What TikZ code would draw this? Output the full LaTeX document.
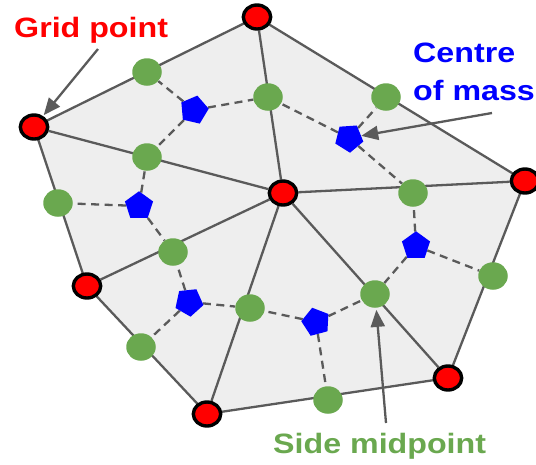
\documentclass[tikz,border=0pt]{standalone}
\usepackage{fontspec}
\setmainfont{Liberation Sans}
\usetikzlibrary{shapes.geometric,arrows.meta,backgrounds}
\definecolor{edgegray}{HTML}{5A5A5A}
\definecolor{fillgray}{HTML}{EEEEEE}
\definecolor{midgreen}{HTML}{6AA84F}
\begin{document}
\begin{tikzpicture}[x=1pt,y=-1pt,
  gridpt/.style={ellipse,draw=black,fill=red,line width=3.4pt,minimum width=27.4pt,minimum height=24pt,inner sep=0pt},
  midpt/.style={ellipse,fill=midgreen,minimum width=29.5pt,minimum height=27.5pt,inner sep=0pt},
  compt/.style={regular polygon,regular polygon sides=5,fill=blue,minimum size=29.5pt,inner sep=0pt},
  meshline/.style={draw=edgegray,line width=2.3pt},
  dualline/.style={draw=edgegray,line width=2.3pt,dash pattern=on 8pt off 5.5pt},
  pointer/.style={draw=edgegray,line width=2.3pt,-{Triangle[length=17pt,width=14pt]}},
  lbl/.style={anchor=base west,inner sep=0pt,font=\fontsize{28}{38}\selectfont\bfseries}
]
\useasboundingbox (0,0) rectangle (536,464);

% grid points
\node[gridpt] (T)  at (257,17)  {};
\node[gridpt] (L)  at (34,127)  {};
\node[gridpt] (C)  at (283,193) {};
\node[gridpt] (R)  at (525,181) {};
\node[gridpt] (LL) at (87,286)  {};
\node[gridpt] (BL) at (207,414) {};
\node[gridpt] (BR) at (448,378) {};

% side midpoints
\node[midpt] (g1)  at (147,72)  {};
\node[midpt] (g2)  at (268,97)  {};
\node[midpt] (g3)  at (386,97)  {};
\node[midpt] (g4)  at (147,157) {};
\node[midpt] (g5)  at (413,193) {};
\node[midpt] (g6)  at (58,203)  {};
\node[midpt] (g7)  at (173,252) {};
\node[midpt] (g8)  at (493,276) {};
\node[midpt] (g9)  at (375,294) {};
\node[midpt] (g10) at (250,308) {};
\node[midpt] (g11) at (141,347) {};
\node[midpt] (g12) at (328,400) {};

% centres of mass
\node[compt,shape border rotate=-13] (p1) at (194,110) {};
\node[compt,shape border rotate=-32] (p2) at (349,138) {};
\node[compt] (p3) at (416,246) {};
\node[compt,shape border rotate=15] (p4) at (316,322) {};
\node[compt,shape border rotate=-30] (p5) at (189,302) {};
\node[compt] (p6) at (139,206) {};

\begin{pgfonlayer}{background}
\fill[fillgray] (L.center) -- (T.center) -- (R.center) -- (BR.center) -- (BL.center) -- (LL.center) -- cycle;
\draw[meshline,line join=round] (L.center) -- (T.center) -- (R.center) -- (BR.center) -- (BL.center) -- (LL.center) -- cycle;
\draw[meshline] (C) -- (T) (C) -- (L) (C) -- (R) (C) -- (LL) (C) -- (BL) (C) -- (BR);
\draw[dualline] (p1) -- (g1) (p1) -- (g2) (p1) -- (g4);
\draw[dualline] (p2) -- (g2) (p2) -- (g3) (p2) -- (g5);
\draw[dualline] (p3) -- (g5) (p3) -- (g8) (p3) -- (g9);
\draw[dualline] (p4) -- (g9) (p4) -- (g12) (p4) -- (g10);
\draw[dualline] (p5) -- (g10) (p5) -- (g11) (p5) -- (g7);
\draw[dualline] (p6) -- (g7) (p6) -- (g6) (p6) -- (g4);
\end{pgfonlayer}

% labels
\node[lbl,text=red] (gptxt) at (14,37) {\scalebox{1.15}[1]{Grid point}};
\node[lbl,text=blue] (cmtxta) at (413,62) {\scalebox{1.15}[1]{Centre}};
\node[lbl,text=blue] (cmtxtb) at (413,100) {\scalebox{1.15}[1]{of mass}};
\node[lbl,text=midgreen] (smtxt) at (273,453) {\scalebox{1.15}[1]{Side midpoint}};

% pointers
\coordinate (gptail) at (98,49);
\coordinate (cmtail) at (492,113);
\coordinate (smtail) at (386,423);
\draw[pointer,shorten >=1pt] (gptail) -- (L);
\draw[pointer] (cmtail) -- (p2);
\draw[pointer,shorten >=2pt] (smtail) -- (g9);
\end{tikzpicture}
\end{document}
